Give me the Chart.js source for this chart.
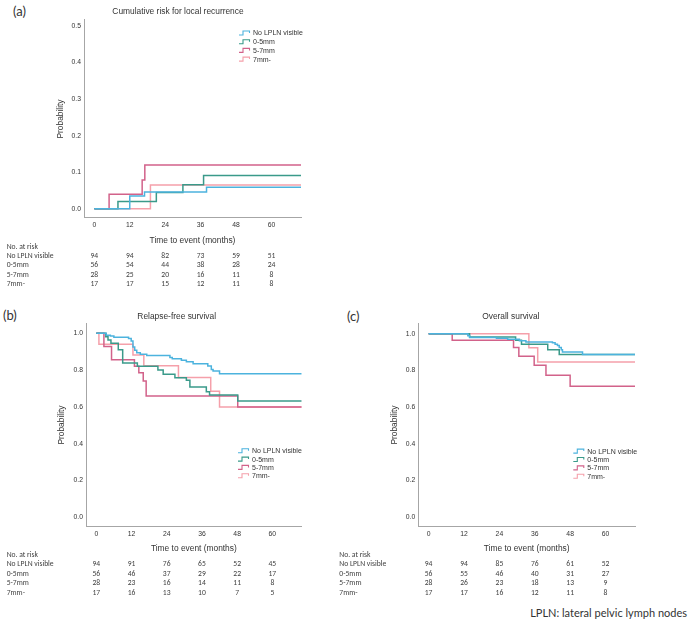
<!DOCTYPE html>
<html><head><meta charset="utf-8">
<script src="https://cdn.jsdelivr.net/npm/chart.js@4.4.0/dist/chart.umd.min.js"></script>
<style>
html,body{margin:0;padding:0;background:#fff;width:689px;height:622px;overflow:hidden;position:relative}
canvas{position:absolute}
.lab{position:absolute;font-family:Lato,'Open Sans',sans-serif;font-size:13px;color:#333;line-height:14px}
.note{position:absolute;font-family:Lato,'Open Sans',sans-serif;font-size:11px;color:#333;right:2px;top:606px;white-space:nowrap}
</style></head><body>
<div class="lab" style="left:13px;top:4px">(a)</div>
<div class="lab" style="left:3px;top:308px">(b)</div>
<div class="lab" style="left:347px;top:309px">(c)</div>
<div class="note">LPLN: lateral pelvic lymph nodes</div>
<canvas id="ca" width="320" height="300" style="left:0;top:0"></canvas>
<canvas id="cb" width="330" height="322" style="left:0;top:300px"></canvas>
<canvas id="cc" width="359" height="322" style="left:330px;top:300px"></canvas>
<script>
// ---------- data ----------
const seriesLabels = ['No LPLN visible', '0-5mm', '5-7mm', '7mm-'];
const xTicks = [0, 12, 24, 36, 48, 60];
const yTicksA = [0, 0.1, 0.2, 0.3, 0.4, 0.5];
const yTicksSurv = [0, 0.2, 0.4, 0.6, 0.8, 1.0];
const riskRowLabels = ['No LPLN visible', '0-5mm', '5-7mm', '7mm-'];

// (a) Cumulative risk for local recurrence
const aTimeNone = [0, 12, 17, 38, 70];
const aValNone  = [0, 0.035, 0.046, 0.059, 0.059];
const aTime05 = [0, 8, 21, 30, 37, 70];
const aVal05  = [0, 0.02, 0.045, 0.066, 0.091, 0.091];
const aTime57 = [0, 5, 16.2, 17.1, 70];
const aVal57  = [0, 0.04, 0.079, 0.12, 0.12];
const aTime7 = [0, 19, 70];
const aVal7  = [0, 0.065, 0.065];

// (b) Relapse-free survival
const bTimeNone = [0, 3.4, 4.8, 6, 11, 11.9, 12.5, 13.1, 13.8, 15, 17.2, 25.1, 25.9, 29, 30.7, 33, 38, 39.2, 39.8, 42, 70];
const bValNone  = [1, 0.99, 0.985, 0.979, 0.972, 0.958, 0.926, 0.908, 0.895, 0.886, 0.88, 0.868, 0.862, 0.853, 0.846, 0.835, 0.822, 0.804, 0.795, 0.78, 0.78];
const bTime05 = [0, 3.2, 4, 5, 7.5, 9, 14, 21, 22.8, 26.8, 30.7, 31.9, 37.5, 38.6, 48.2, 70];
const bVal05  = [1, 0.982, 0.964, 0.946, 0.911, 0.839, 0.821, 0.80, 0.777, 0.759, 0.745, 0.708, 0.683, 0.665, 0.632, 0.632];
const bTime57 = [0, 2.6, 5.2, 13, 14.5, 16, 17, 48.2, 70];
const bVal57  = [1, 0.929, 0.857, 0.821, 0.786, 0.741, 0.66, 0.60, 0.60];
const bTime7 = [0, 0.9, 12.5, 16.2, 28, 39, 42, 70];
const bVal7  = [1, 0.941, 0.882, 0.824, 0.76, 0.685, 0.60, 0.60];

// (c) Overall survival
const cTimeNone = [0, 13.3, 13.9, 23, 26.8, 30.8, 33, 42, 42.9, 43.7, 44.3, 45, 45.4, 52.2, 70];
const cValNone  = [1, 0.989, 0.979, 0.975, 0.97, 0.962, 0.955, 0.95, 0.943, 0.935, 0.925, 0.913, 0.90, 0.887, 0.887];
const cTime05 = [0, 13.9, 29.5, 31.5, 40.4, 44.3, 70];
const cVal05  = [1, 0.982, 0.964, 0.943, 0.913, 0.887, 0.887];
const cTime57 = [0, 8, 28.8, 30.6, 35.8, 39.8, 48, 70];
const cVal57  = [1, 0.964, 0.925, 0.877, 0.828, 0.774, 0.714, 0.714];
const cTime7 = [0, 34, 37, 70];
const cVal7  = [1, 0.923, 0.846, 0.846];

// Numbers at risk (at 0,12,24,36,48,60 months)
const aRiskNone = [94, 94, 82, 73, 59, 51];
const aRisk05   = [56, 54, 44, 38, 28, 24];
const aRisk57   = [28, 25, 20, 16, 11, 8];
const aRisk7    = [17, 17, 15, 12, 11, 8];
const bRiskNone = [94, 91, 76, 65, 52, 45];
const bRisk05   = [56, 46, 37, 29, 22, 17];
const bRisk57   = [28, 23, 16, 14, 11, 8];
const bRisk7    = [17, 16, 13, 10, 7, 5];
const cRiskNone = [94, 94, 85, 76, 61, 52];
const cRisk05   = [56, 55, 46, 40, 31, 27];
const cRisk57   = [28, 26, 23, 18, 13, 9];
const cRisk7    = [17, 17, 16, 12, 11, 8];

// ---------- styling ----------
const COLORS = ['#4cb3de', '#3a9a8a', '#d2628a', '#f5a0aa'];
const CHART_FONT = "'Liberation Sans',Arial,sans-serif";
const TABLE_FONT = "Carlito,Lato,'Open Sans',sans-serif";
const AXIS_COLOR = '#a6a6a6';
const TEXT_COLOR = '#333';

const pts = (t, v) => t.map((x, i) => ({x: x, y: v[i]}));

const kmExtras = {
  id: 'kmExtras',
  afterDraw(chart, args, o) {
    const ctx = chart.ctx, ca = chart.chartArea, xs = chart.scales.x;
    ctx.save();
    // legend
    const lx = ca.right + o.legendDx, ly = ca.top + o.legendDy;
    chart.data.datasets.forEach((ds, i) => {
      const y = ly + i * o.legendRow;
      ctx.strokeStyle = ds.borderColor; ctx.lineWidth = 1.1;
      ctx.beginPath();
      ctx.moveTo(lx, y + 2); ctx.lineTo(lx + 4, y + 2); ctx.lineTo(lx + 4, y - 2);
      ctx.lineTo(lx + 10.5, y - 2); ctx.lineTo(lx + 10.5, y);
      ctx.stroke();
      ctx.fillStyle = TEXT_COLOR; ctx.font = '7px ' + CHART_FONT;
      ctx.textBaseline = 'middle'; ctx.textAlign = 'left';
      ctx.fillText(ds.label, lx + 14, y + 0.5);
    });
    // at-risk table
    ctx.fillStyle = '#404040'; ctx.font = '7.6px ' + TABLE_FONT; ctx.textBaseline = 'middle';
    const r0 = ca.bottom + o.tableDy;
    ctx.textAlign = 'left';
    ctx.fillText('No. at risk', o.tableLabelX, r0);
    o.rows.forEach((row, j) => {
      const y = r0 + (j + 1) * o.tableRow;
      ctx.textAlign = 'left';
      ctx.fillText(riskRowLabels[j], o.tableLabelX, y);
      ctx.textAlign = 'center';
      row.forEach((n, k) => ctx.fillText(String(n), xs.getPixelForValue(xTicks[k]), y));
    });
    ctx.restore();
  }
};

function makeChart(id, cfg) {
  const datasets = cfg.series.map((s, i) => ({
    label: seriesLabels[i], data: pts(s[0], s[1]),
    borderColor: COLORS[i], backgroundColor: COLORS[i],
    borderWidth: 1.5, pointRadius: 0, stepped: 'before', tension: 0, fill: false
  }));
  return new Chart(document.getElementById(id), {
    type: 'line',
    data: {datasets},
    plugins: [kmExtras],
    options: {
      responsive: false, animation: false, devicePixelRatio: 1,
      layout: {padding: cfg.padding},
      plugins: {
        legend: {display: false}, tooltip: {enabled: false},
        title: {display: true, text: cfg.title, fullSize: true, color: TEXT_COLOR,
          font: {family: CHART_FONT, size: 8.4, weight: 'normal'},
          padding: cfg.titlePad},
        kmExtras: cfg.extras
      },
      scales: {
        x: {type: 'linear', min: -3.5, max: 70,
          grid: {display: false, drawTicks: false}, border: {display: true, color: AXIS_COLOR, width: 1},
          afterBuildTicks: s => { s.ticks = xTicks.map(v => ({value: v})); },
          afterFit: s => { s.height = cfg.xHeight; },
          ticks: {color: TEXT_COLOR, font: {family: CHART_FONT, size: 6.8}, padding: 3.5, maxRotation: 0,
            callback: v => String(v)},
          title: {display: true, text: 'Time to event (months)', color: TEXT_COLOR,
            font: {family: CHART_FONT, size: 8.4}, padding: {top: 0, bottom: 0}}
        },
        y: {type: 'linear', min: cfg.yMin, max: cfg.yMax,
          grid: {display: false, drawTicks: false}, border: {display: true, color: AXIS_COLOR, width: 1},
          afterBuildTicks: s => { s.ticks = cfg.yTicks.map(v => ({value: v})); },
          afterFit: s => { s.width = cfg.yWidth; },
          ticks: {color: TEXT_COLOR, font: {family: CHART_FONT, size: 6.8}, padding: 3,
            callback: v => Number(v).toFixed(1)},
          title: {display: true, text: 'Probability', color: TEXT_COLOR,
            font: {family: CHART_FONT, size: 8.4}, padding: {top: cfg.yTitlePad, bottom: 0}}
        }
      }
    }
  });
}

makeChart('ca', {
  title: 'Cumulative risk for local recurrence',
  series: [[aTimeNone, aValNone], [aTime05, aVal05], [aTime57, aVal57], [aTime7, aVal7]],
  padding: {left: 55, right: 19, top: 0, bottom: 54},
  titlePad: {top: 7, bottom: 2.9},
  xHeight: 28, yWidth: 29, yTitlePad: 0.2,
  yMin: -0.025, yMax: 0.516, yTicks: yTicksA,
  extras: {legendDx: -62, legendDy: 13, legendRow: 8.7, tableDy: 28.7, tableRow: 9.4, tableLabelX: 6.7,
    rows: [aRiskNone, aRisk05, aRisk57, aRisk7]}
});
makeChart('cb', {
  title: 'Relapse-free survival',
  series: [[bTimeNone, bValNone], [bTime05, bVal05], [bTime57, bVal57], [bTime7, bVal7]],
  padding: {left: 51.7, right: 28.3, top: 0, bottom: 68.3},
  titlePad: {top: 11.7, bottom: 1.6},
  xHeight: 27, yWidth: 34.3, yTitlePad: 5.3,
  yMin: -0.051, yMax: 1.054, yTicks: yTicksSurv,
  extras: {legendDx: -63.7, legendDy: 127.4, legendRow: 8.3, tableDy: 28.3, tableRow: 9.4, tableLabelX: 6.7,
    rows: [bRiskNone, bRisk05, bRisk57, bRisk7]}
});
makeChart('cc', {
  title: 'Overall survival',
  series: [[cTimeNone, cValNone], [cTime05, cVal05], [cTime57, cVal57], [cTime7, cVal7]],
  padding: {left: 56.6, right: 54, top: 0, bottom: 68.3},
  titlePad: {top: 11.7, bottom: 1.6},
  xHeight: 27, yWidth: 31.7, yTitlePad: 3.4,
  yMin: -0.051, yMax: 1.056, yTicks: yTicksSurv,
  extras: {legendDx: -61.7, legendDy: 127.7, legendRow: 8.4, tableDy: 28.3, tableRow: 9.4, tableLabelX: 9.3,
    rows: [cRiskNone, cRisk05, cRisk57, cRisk7]}
});
</script>
</body></html>
